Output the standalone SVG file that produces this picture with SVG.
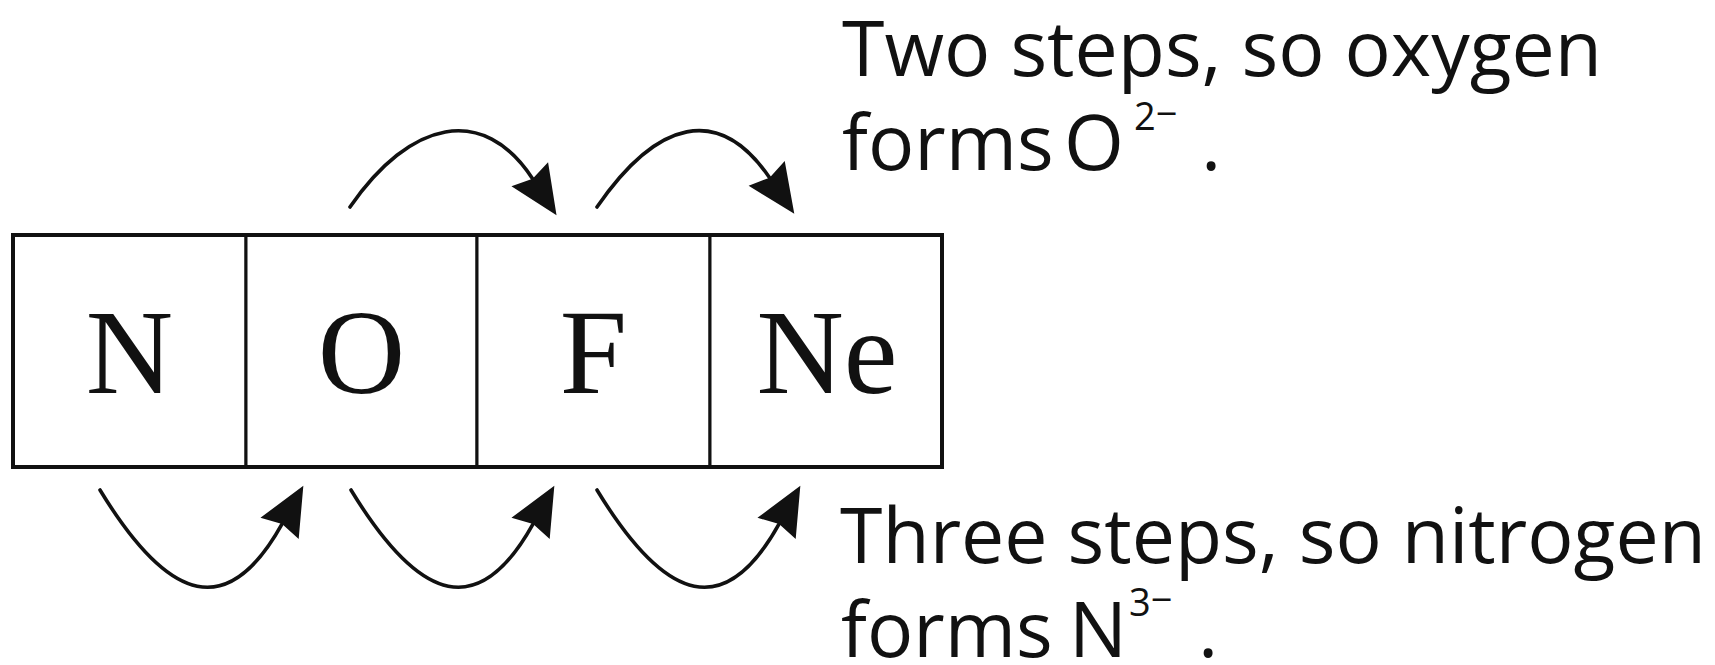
<svg xmlns="http://www.w3.org/2000/svg" width="1715" height="665" viewBox="0 0 1715 665">
  <style>
    .cell { fill: #ffffff; stroke: #111111; stroke-width: 3; }
    .frame { fill: none; stroke: #111111; stroke-width: 4; }
    .elem { font-family: "Liberation Serif", "Times New Roman", serif; font-size: 121px; fill: #111111; text-anchor: middle; }
    .note { font-family: "Open Sans", "Noto Sans", sans-serif; font-size: 77px; fill: #111111; }
    .sup { font-size: 38px; }
    .arc { fill: none; stroke: #111111; stroke-width: 3.6; stroke-linecap: round; }
  </style>
  <defs>
    <marker id="head" markerUnits="userSpaceOnUse" markerWidth="60" markerHeight="50" viewBox="-2 -24 52 48" refX="5" refY="0" orient="auto">
      <path d="M0,-21 L47,0 L0,21 L5,0 Z" fill="#111111"/>
    </marker>
  </defs>
  <rect width="1715" height="665" fill="#ffffff"/>

  <g id="cell-N">
    <rect class="cell" x="13" y="235" width="233" height="232"/>
    <text class="elem" x="129.5" y="393">N</text>
  </g>
  <g id="cell-O">
    <rect class="cell" x="246" y="235" width="231" height="232"/>
    <text class="elem" x="361.5" y="393">O</text>
  </g>
  <g id="cell-F">
    <rect class="cell" x="477" y="235" width="233" height="232"/>
    <text class="elem" x="593.5" y="393">F</text>
  </g>
  <g id="cell-Ne">
    <rect class="cell" x="710" y="235" width="232" height="232"/>
    <text class="elem" x="827" y="393">Ne</text>
  </g>
  <rect class="frame" x="13" y="235" width="929" height="232"/>

  <g id="connectors">
    <path class="arc" d="M350,207 C410,120 483.4,103.4 532.6,178.7" marker-end="url(#head)"/>
    <path class="arc" d="M597,207 C657,120 718.8,103.4 769.6,177.7" marker-end="url(#head)"/>
    <path class="arc" d="M100,490 C170,605 228.6,620.2 282.1,523.9" marker-end="url(#head)"/>
    <path class="arc" d="M351,490 C421,605 479.6,620.2 533.1,523.9" marker-end="url(#head)"/>
    <path class="arc" d="M597,490 C667,605 725.6,620.2 779.1,523.9" marker-end="url(#head)"/>
  </g>

  <g id="note-oxygen">
    <text class="note" x="842" y="76">Two steps, so oxygen</text>
    <text class="note" x="842" y="170">forms <tspan x="1064">O</tspan><tspan class="sup" x="1134" y="130">2</tspan><tspan class="sup" dy="-3">−</tspan><tspan x="1201" y="170">.</tspan></text>
  </g>
  <g id="note-nitrogen">
    <text class="note" x="840" y="563">Three steps, so nitrogen</text>
    <text class="note" x="841" y="657">forms <tspan x="1069">N</tspan><tspan class="sup" x="1129" y="616">3</tspan><tspan class="sup" dy="-3">−</tspan><tspan x="1198" y="657">.</tspan></text>
  </g>
</svg>
